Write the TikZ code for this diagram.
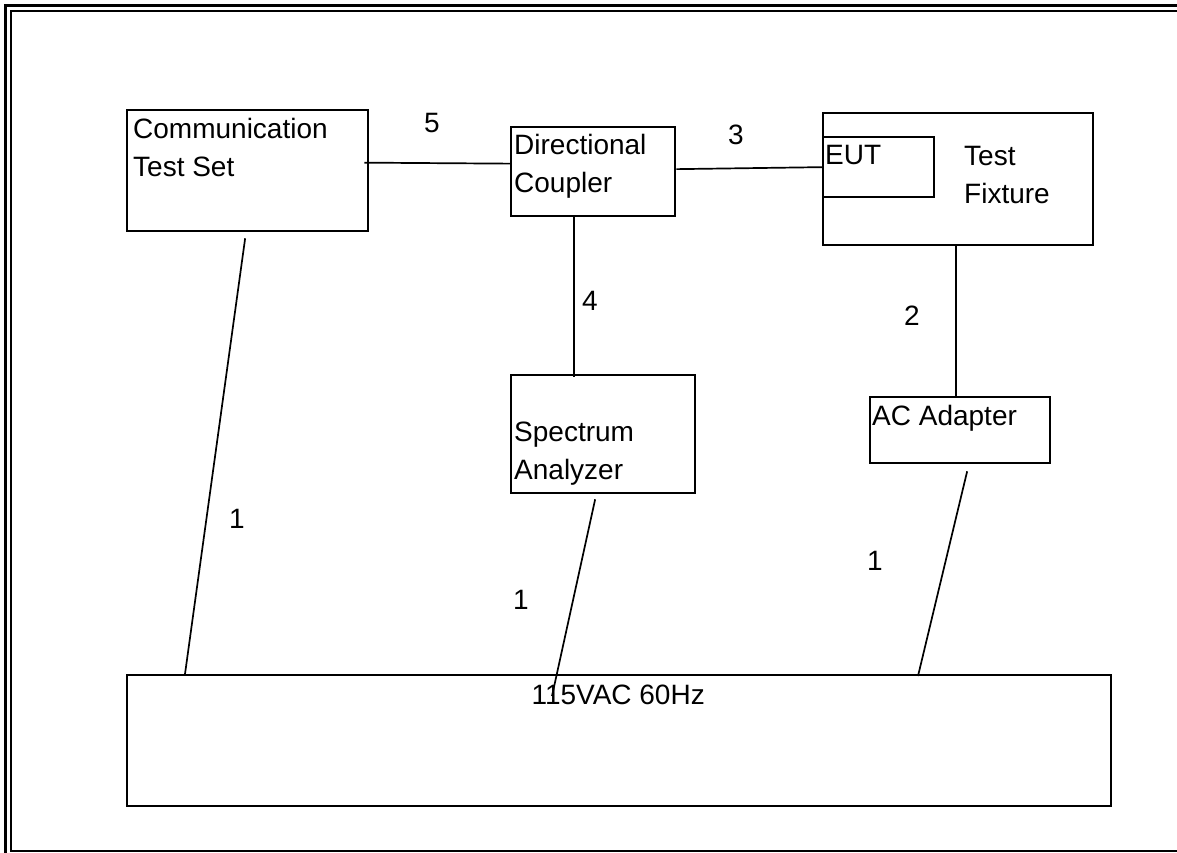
\documentclass[tikz,border=0pt]{standalone}
\usepackage{fontspec}
\setmainfont{Liberation Sans}
\usetikzlibrary{positioning}

\begin{document}
\begin{tikzpicture}[
    x=1pt, y=-1pt,
    unitbox/.style={
        draw=black, line width=2.3pt, anchor=north west,
        inner sep=0pt, fill=none
    },
    boxtext/.style={
        font=\fontsize{28}{38}\selectfont, anchor=base west,
        inner sep=0pt, align=left
    },
    wire/.style={draw=black, line width=1.7pt},
    wirelbl/.style={
        font=\fontsize{28}{34}\selectfont, anchor=base west, inner sep=0pt
    },
    frameline/.style={draw=black, line cap=butt},
]

\useasboundingbox (0,0) rectangle (1177,853);

%% =================================================================
%% Page frame (double rule top/left)
%% =================================================================
\draw[frameline, line width=3pt] (5,853) -- (5,5.5) -- (1177,5.5);
\draw[frameline, line width=2.2pt] (1177,11.2) -- (10.8,11.2) -- (10.8,850.8) -- (1177,850.8);

%% =================================================================
%% Equipment boxes (text base = last line)
%% =================================================================
\node[unitbox, minimum width=241pt, minimum height=121pt] (comm) at (126,109) {};
\node[boxtext] (commtxt) at (133,177) {Communication\\Test Set};

\node[unitbox, minimum width=164pt, minimum height=89pt] (coupler) at (510,126) {};
\node[boxtext] (couplertxt) at (514,193) {Directional\\Coupler};

\node[unitbox, minimum width=270pt, minimum height=132pt] (fixture) at (822,112) {};
\node[unitbox, minimum width=111pt, minimum height=60pt] (eut) at (822,136) {};
\node[boxtext] (euttxt) at (825,165) {EUT};
\node[boxtext] (fixturetxt) at (964,204) {Test\\Fixture};

\node[unitbox, minimum width=184pt, minimum height=118pt] (spectrum) at (510,374) {};
\node[boxtext] (spectrumtxt) at (514,479) {Spectrum\\Analyzer};

\node[unitbox, minimum width=180pt, minimum height=66pt] (adapter) at (869,396) {};
\node[boxtext] (adaptertxt) at (872,425) {AC Adapter};

%% =================================================================
%% Mains strip (bottom)
%% =================================================================
\node[unitbox, minimum width=984pt, minimum height=131pt] (mains) at (126,674) {};
\node[font=\fontsize{28}{34}\selectfont, anchor=base, inner sep=0pt] (mainstxt)
    at ([shift={(-1,30)}]mains.north) {115VAC 60Hz};

%% =================================================================
%% Cables
%% =================================================================
\draw[wire] ([shift={(-5,-8)}]comm.east) -- ([shift={(0,-8)}]coupler.west);
\node[wirelbl] (lbl5) at (424,133) {5};

\draw[wire] ([shift={(0,-2.5)}]coupler.east) -- (eut.west);
\node[wirelbl] (lbl3) at (728,145) {3};

\draw[wire] ([shift={(-19,0)}]coupler.south) -- ([shift={(-29,3)}]spectrum.north);
\node[wirelbl] (lbl4) at (582,310) {4};

\draw[wire] ([shift={(-2,0)}]fixture.south) -- ([shift={(-4,0)}]adapter.north);
\node[wirelbl] (lbl2) at (904,325) {2};

%% power leads
\draw[wire] ([shift={(-2.5,6)}]comm.south) -- ([shift={(59,0)}]mains.north west);
\node[wirelbl] (lbl1a) at (229,528) {1};

\draw[wire] ([shift={(-8,5)}]spectrum.south) -- ([shift={(426,22)}]mains.north west);
\node[wirelbl] (lbl1b) at (513,609) {1};

\draw[wire] ([shift={(7,7)}]adapter.south) -- ([shift={(792,2)}]mains.north west);
\node[wirelbl] (lbl1c) at (867,570) {1};

\end{tikzpicture}
\end{document}
